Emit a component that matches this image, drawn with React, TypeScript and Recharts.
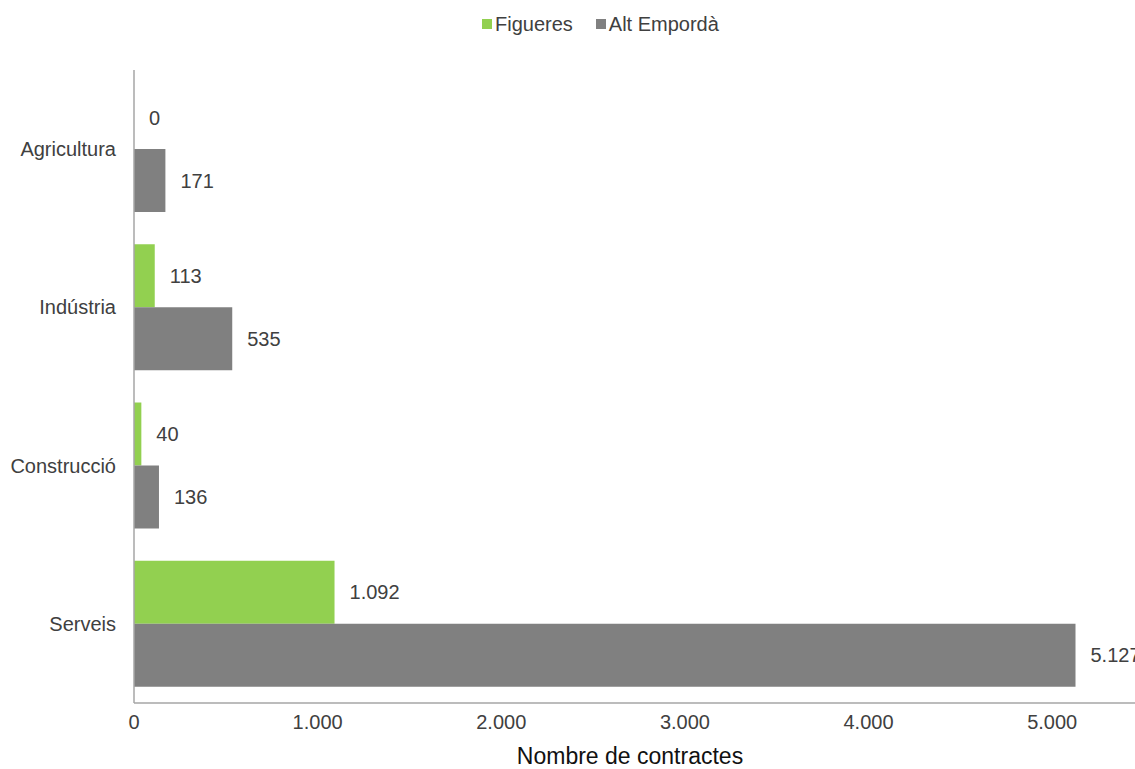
import React from 'react';
import {
  BarChart,
  Bar,
  XAxis,
  YAxis,
  LabelList,
} from 'recharts';

const categories = ['Agricultura', 'Indústria', 'Construcció', 'Serveis'];
const figueres = [0, 113, 40, 1092];
const altEmporda = [171, 535, 136, 5127];
const xTicks = [0, 1000, 2000, 3000, 4000, 5000];

const data = categories.map((name, i) => ({
  name,
  figueres: figueres[i],
  altEmporda: altEmporda[i],
}));

const FONT = '"Liberation Sans", Arial, sans-serif';
const TEXT = '#404040';
const GREEN = '#92D050';
const GRAY = '#808080';
const FS = 20;

const fmt = (v: number | string) =>
  String(v).replace(/\B(?=(\d{3})+(?!\d))/g, '.');

function TopLegend() {
  const item = (color: string, label: string, gap: number) => (
    <span style={{ display: 'inline-flex', alignItems: 'center', marginRight: gap }}>
      <span style={{ width: 10, height: 10, background: color, marginRight: 3, display: 'inline-block' }} />
      <span>{label}</span>
    </span>
  );
  return (
    <div
      style={{
        position: 'absolute',
        top: 9,
        left: 482,
        fontFamily: FONT,
        fontSize: FS,
        color: TEXT,
        whiteSpace: 'nowrap',
        lineHeight: '26px',
      }}
    >
      {item(GREEN, 'Figueres', 23)}
      {item(GRAY, 'Alt Empordà', 0)}
    </div>
  );
}

export default function App() {
  return (
    <div
      style={{
        position: 'absolute',
        left: 0,
        top: 0,
        width: 1135,
        height: 769,
        overflow: 'hidden',
        background: '#fff',
      }}
    >
      <TopLegend />
      <BarChart
        width={1160}
        height={769}
        data={data}
        layout="vertical"
        margin={{ top: 70, right: 16, bottom: 0, left: 0 }}
        barCategoryGap={16}
        barGap={0}
        style={{ fontFamily: FONT }}
      >
        <XAxis
          type="number"
          domain={[0, 5500]}
          ticks={xTicks}
          tickFormatter={fmt}
          axisLine={{ stroke: '#A6A6A6', strokeWidth: 1.5 }}
          tickLine={false}
          tickMargin={6}
          tick={{ fontSize: FS, fill: TEXT }}
          height={66}
          label={{
            value: 'Nombre de contractes',
            position: 'insideBottom',
            offset: 5,
            dx: -9,
            fontSize: 23,
            fill: '#111',
          }}
        />
        <YAxis
          type="category"
          dataKey="name"
          width={134}
          axisLine={{ stroke: '#A6A6A6', strokeWidth: 1.5 }}
          tickLine={false}
          tickMargin={12}
          tick={{ fontSize: FS, fill: TEXT }}
        />
        <Bar
          dataKey="figueres"
          name="Figueres"
          fill={GREEN}
          minPointSize={0.01}
          isAnimationActive={false}
        >
          <LabelList
            dataKey="figueres"
            position="right"
            offset={15}
            formatter={fmt}
            style={{ fontSize: FS, fill: TEXT }}
          />
        </Bar>
        <Bar dataKey="altEmporda" name="Alt Empordà" fill={GRAY} isAnimationActive={false}>
          <LabelList
            dataKey="altEmporda"
            position="right"
            offset={15}
            formatter={fmt}
            style={{ fontSize: FS, fill: TEXT }}
          />
        </Bar>
      </BarChart>
    </div>
  );
}
